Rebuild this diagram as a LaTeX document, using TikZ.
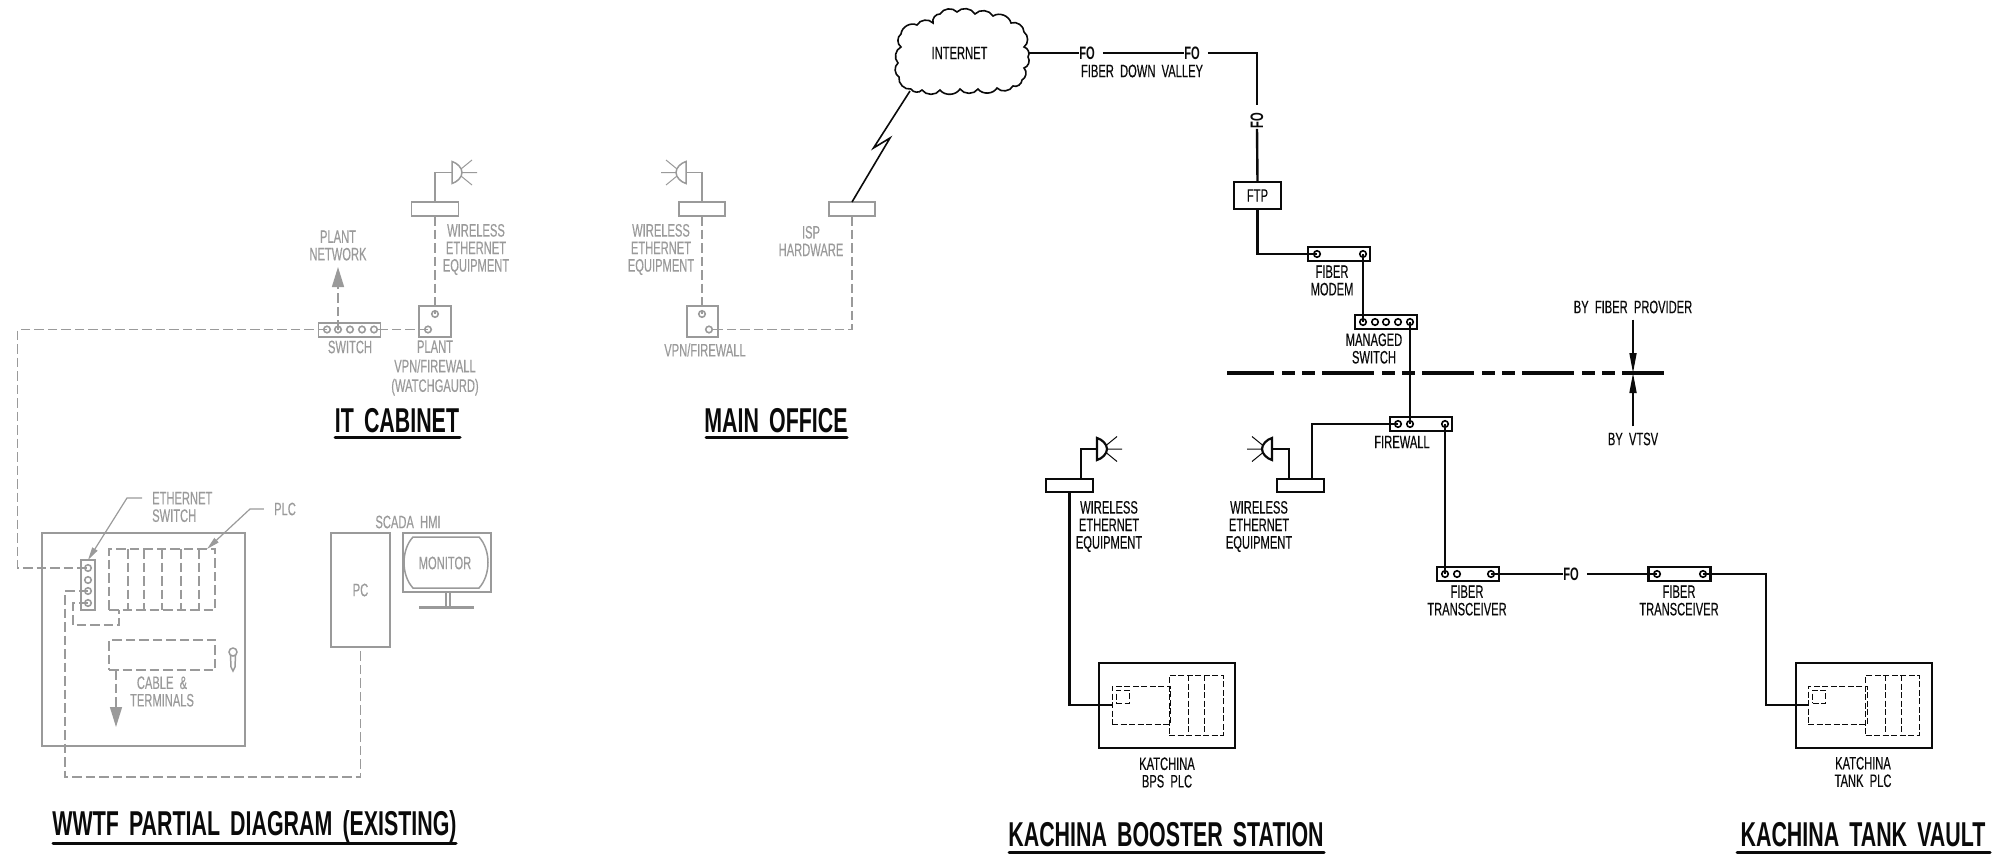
\documentclass[tikz,border=0pt]{standalone}
\usepackage{fontspec}
\setmainfont{Liberation Sans}[FakeStretch=0.62,WordSpace=1.7]
\newfontfamily\tagfont{Liberation Sans}[FakeStretch=0.62,WordSpace=2,FakeBold=0.35]
\usepackage{tikz}
\usetikzlibrary{arrows.meta, positioning, calc}
\definecolor{CadGrey}{HTML}{9A9A9A}
\definecolor{CadBlack}{HTML}{0A0A0A}

\tikzset{
  greyline/.style={draw=CadGrey, line width=1.5pt},
  greydash/.style={draw=CadGrey, line width=1.5pt, dash pattern=on 9.5pt off 4pt},
  wire/.style={draw=CadBlack, line width=2.4pt},
  thinwire/.style={draw=CadBlack, line width=1.6pt},
  plcdash/.style={draw=CadBlack, line width=1pt, dash pattern=on 6pt off 2.5pt},
  devbox/.style={rectangle, inner sep=0pt, outer sep=0pt},
  radiobox/.style={devbox, minimum width=47pt, minimum height=14pt},
  barbox/.style={devbox, minimum width=62pt, minimum height=14pt},
  port/.style={circle, draw, line width=1.6pt, inner sep=0pt, outer sep=0pt, minimum size=6.5pt},
  tag/.style={align=center, inner sep=0pt, text=CadBlack, font=\tagfont\fontsize{18}{17.5}\selectfont},
  greytag/.style={tag, text=CadGrey},
  fotag/.style={tag, inner sep=0pt, font=\normalfont\fontsize{18}{17.5}\selectfont\bfseries},
  headline/.style={tag, font=\normalfont\fontsize{34.5}{34.5}\selectfont\bfseries},
  headrule/.style={draw=CadBlack, line width=3pt, line cap=round},
  horn/.pic={
    \draw (0,-11) .. controls (5,-9.5) and (10,-5) .. (10,0) .. controls (10,5) and (5,9.5) .. (0,11) -- cycle;
    \draw[line width=1pt] (9,-3.5) -- (20,-12.5) (10,0) -- (25,0) (9,3.5) -- (20,12.5);
  }
}

\begin{document}
\begin{tikzpicture}[x=1pt, y=-1pt]
    \useasboundingbox (0,0) rectangle (1999,857);

    \node[devbox, radiobox, greyline] (itradio) at (435,209) {};
    \node[devbox, greyline, minimum width=32pt, minimum height=31pt] (itfw) at (435,321.5) {};
    \node[port, CadGrey] (itfwa) at (435,314) {};
    \node[port, CadGrey] (itfwb) at (428,329.5) {};
    \node[devbox, barbox, greyline] (itsw) at (349.5,330) {};
    \node[port, CadGrey] (itswa) at (327,329.5) {};
    \node[port, CadGrey] (itswb) at (338,329.5) {};
    \node[port, CadGrey] (itswc) at (350,329.5) {};
    \node[port, CadGrey] (itswd) at (362,329.5) {};
    \node[port, CadGrey] (itswe) at (374,329.5) {};
    \coordinate (ithorn) at (452,172.5);
    \coordinate (plantup) at (338,267);
    \coordinate (wallrun) at (17.5,568);
    \pic[CadGrey, line width=1.5pt] at (ithorn) {horn};

    \node[greytag] (plantnet) at (338,245.5) {PLANT\\NETWORK};
    \node[greytag] (itwireless) at (476,249.5) {WIRELESS\\ETHERNET\\EQUIPMENT};
    \node[greytag] (swlabel) at (350,347) {SWITCH};
    \node[greytag, font=\tagfont\fontsize{18}{19.5}\selectfont] (itfwlabel) at (435,368) {PLANT\\VPN/FIREWALL\\(WATCHGAURD)};
    \node[headline] (ittitle) at (397,421) {IT CABINET};
    \draw[headrule] (335,437) -- (460,437);

    \draw[greyline] (itradio.north) |- (ithorn);
    \draw[greydash] (itradio.south) -- (itfwa.center);
    \draw[greydash] (itfwb.center) -- (itswe.center);
    \draw[greydash, -{Triangle[length=20pt, width=12pt]}] (itswb.center) -- (plantup);

    \node[devbox, greyline, minimum width=46pt, minimum height=14pt] (mradio) at (702,209) {};
    \node[devbox, greyline, minimum width=46pt, minimum height=14pt] (ispbox) at (852,209) {};
    \node[devbox, greyline, minimum width=31pt, minimum height=31pt] (mfw) at (702.5,321.5) {};
    \node[port, CadGrey] (mfwa) at (702,314) {};
    \node[port, CadGrey] (mfwb) at (709,329.5) {};
    \coordinate (mhorn) at (686,172.5);
    \pic[CadGrey, line width=1.5pt, xscale=-1] at (mhorn) {horn};

    \node[greytag] (mwireless) at (661,249.5) {WIRELESS\\ETHERNET\\EQUIPMENT};
    \node[greytag] (isplabel) at (811,241) {ISP\\HARDWARE};
    \node[greytag] (mfwlabel) at (705,350) {VPN/FIREWALL};
    \node[headline] (maintitle) at (776,421) {MAIN OFFICE};
    \draw[headrule] (706,437) -- (847,437);

    \draw[greyline] (mradio.north) |- (mhorn);
    \draw[greydash] (mradio.south) -- (mfwa.center);
    \draw[greydash] (ispbox.south) |- (mfwb.center);

    \node[greyline, devbox, minimum width=203pt, minimum height=213pt] (wwtf) at (143.5,639.5) {};
    \node[greyline, devbox, minimum width=14pt, minimum height=50pt] (ethsw) at (88,585) {};
    \node[port, CadGrey] (ethpa) at (88,568) {};
    \node[port, CadGrey] (ethpb) at (88,580) {};
    \node[port, CadGrey] (ethpc) at (88,591) {};
    \node[port, CadGrey] (ethpd) at (88,603) {};
    \node[greydash, devbox, minimum width=106pt, minimum height=61pt] (plcrack) at (162,579.5) {};
    \node[greydash, devbox, minimum width=106pt, minimum height=30pt] (cablebox) at (162,655) {};
    \node[greyline, devbox, minimum width=59pt, minimum height=114pt] (pc) at (360.5,590) {};
    \node[greyline, devbox, minimum width=88pt, minimum height=59pt] (monitor) at (447,562.5) {};
    \node[greytag] at (360.5,590) (pclabel) {PC};
    \node[greytag] (monlabel) at (445,563) {MONITOR};
    \node[greytag] (scadalabel) at (408,522) {SCADA HMI};
    \node[greytag, anchor=west, align=left] (ethlabel) at (152,507) {ETHERNET\\SWITCH};
    \node[greytag] (plclabel) at (285,509) {PLC};
    \node[greytag] (cablelabel) at (162,691.5) {CABLE \&\\TERMINALS};
    \node[headline] (wwtftitle) at (254.5,827) {WWTF PARTIAL DIAGRAM (EXISTING)};
    \draw[headrule] (53,843) -- (456,843);
    \coordinate (ethjog) at (73,625);
    \coordinate (pcrun) at (65,777);
    \coordinate (cabletip) at (116,727);

    \draw[greydash] (128,549) -- (128,610) (144,549) -- (144,610) (162,549) -- (162,610) (181,549) -- (181,610) (199,549) -- (199,610);
    \draw[greyline] (413,537) -- (479,537) .. controls (491,550) and (491,575) .. (479,588) -- (413,588) .. controls (401,575) and (401,550) .. (413,537) -- cycle;
    \draw[greyline] (446,592) -- (446,606) (450,592) -- (450,606);
    \draw[CadGrey, line width=3pt] (419,607) -- (474,607);
    \draw[greyline] (233,652) circle (4) (230.5,655.5) -- (231,667) -- (233,671) -- (235,667) -- (235.5,655.5);

    \draw[greydash] (itswa.center) -| (wallrun) -- (ethpa.center);
    \draw[greydash] (ethpd.center) -| (ethjog) -| ([xshift=-43pt]plcrack.south);
    \draw[greydash] (ethpc.center) -| (pcrun) -| (pc.south);
    \draw[greydash, -{Triangle[length=20pt, width=12pt]}] ([xshift=-46pt]cablebox.south) -- (cabletip);
    \draw[greyline, line width=1.2pt, -{Triangle[length=13pt, width=6pt]}] (142,498) -- (127,498) -- (ethsw.north);
    \draw[greyline, line width=1.2pt, -{Triangle[length=13pt, width=6pt]}] ([xshift=-10pt]plclabel.west) -- (250,509) -- ([xshift=45pt]plcrack.north);

    \node[tag] (inet) at (959.5,53) {INTERNET};
    \coordinate (inetr) at (1028,53);
    \draw[thinwire] (911,89) to[bend left=55] (899,77) to[bend left=55] (898,63) to[bend left=55] (901,47) to[bend left=55] (901,34) to[bend left=55] (917,25) to[bend left=55] (933,23) to[bend left=55] (940,14) to[bend left=55] (957,12) to[bend left=55] (975,14) to[bend left=55] (993,16) to[bend left=55] (1011,23) to[bend left=55] (1024,32) to[bend left=55] (1024,47) to[bend left=55] (1028,57) to[bend left=55] (1024,68) to[bend left=55] (1022,80) to[bend left=55] (1013,86) to[bend left=55] (997,88) to[bend left=55] (978,89) to[bend left=55] (960,89) to[bend left=55] (940,90) to[bend left=55] (922,90) to[bend left=55] (911,89);
    \node[fotag] (foa) at (1087,53) {FO};
    \node[fotag] (fob) at (1192,53) {FO};
    \node[fotag, rotate=90] (foc) at (1257,121) {FO};
    \node[tag] (fiberdown) at (1142,71) {FIBER DOWN VALLEY};
    \node[devbox, wire, minimum width=47pt, minimum height=27pt, tag] (ftp) at (1257.5,195.5) {FTP};
    \node[devbox, barbox, wire] (modem) at (1339,254) {};
    \node[port] (modema) at (1317,254) {};
    \node[port] (modemb) at (1363,254) {};
    \node[tag] (modemlabel) at (1332,280.5) {FIBER\\MODEM};
    \node[devbox, barbox, wire] (mansw) at (1386,322) {};
    \node[port] (manswa) at (1363,322) {};
    \node[port] (manswb) at (1375,322) {};
    \node[port] (manswc) at (1386,322) {};
    \node[port] (manswd) at (1398,322) {};
    \node[port] (manswe) at (1410,322) {};
    \node[tag] (manswlabel) at (1374,348.5) {MANAGED\\SWITCH};
    \node[devbox, barbox, wire] (firewall) at (1421,424) {};
    \node[port] (firewalla) at (1398,424) {};
    \node[port] (firewallb) at (1410,424) {};
    \node[port] (firewallc) at (1445,424) {};
    \node[tag] (firewalllabel) at (1402,442) {FIREWALL};
    \node[tag] (byfiber) at (1633,307) {BY FIBER PROVIDER};
    \node[tag] (byvtsv) at (1633,439) {BY VTSV};
    \coordinate (splitl) at (1227,373);
    \coordinate (splitr) at (1664,373);
    \coordinate (splitp) at (1633,373);
    \coordinate (boltc) at (890,138);
    \coordinate (boltb) at (873.5,148);
    \coordinate (bolta) at (910,91);

    \draw[wire, line width=3.5pt, dash pattern=on 47pt off 8pt on 12.5pt off 7.5pt on 12.5pt off 7.5pt on 5pt off 0pt] (splitl) -- (splitr);
    \draw[wire] (inetr) -- (foa.west);
    \draw[wire] ([xshift=8pt]foa.east) -- (fob.west);
    \draw[wire] ([xshift=8pt]fob.east) -| ([yshift=8pt]foc.east);
    \draw[wire] (foc.west) -- (ftp.north);
    \draw[wire] (ftp.south) |- (modema.center);
    \draw[wire] (modemb.center) -- (manswa.center);
    \draw[wire] (manswe.center) -- (firewallb.center);
    \draw[thinwire] (ispbox.north) -- (boltc) -- (boltb) -- (bolta);
    \draw[thinwire, -{Triangle[length=20pt, width=7pt]}] ([yshift=-6pt]byfiber.south) -- (splitp);
    \draw[thinwire, -{Triangle[length=20pt, width=7pt]}] ([yshift=6pt]byvtsv.north) -- (splitp);

    \node[devbox, radiobox, wire, minimum height=13pt] (rradio) at (1300.5,485.5) {};
    \coordinate (rhorn) at (1272,449);
    \pic[CadBlack, line width=2.2pt, xscale=-1] at (rhorn) {horn};
    \node[tag] (rwireless) at (1259,526.5) {WIRELESS\\ETHERNET\\EQUIPMENT};
    \draw[wire] (rhorn) -| ([xshift=-11.5pt]rradio.north);
    \draw[wire] (firewalla.center) -| ([xshift=11.5pt]rradio.north);

    \node[devbox, barbox, wire] (transa) at (1468,574) {};
    \node[port] (transaa) at (1445,574) {};
    \node[port] (transab) at (1457,574) {};
    \node[port] (transac) at (1491,574) {};
    \node[tag] (transalabel) at (1467,600.5) {FIBER\\TRANSCEIVER};
    \node[devbox, barbox, wire] (transb) at (1679.5,574) {};
    \node[port] (transba) at (1657,574) {};
    \node[port] (transbb) at (1703,574) {};
    \node[tag] (transblabel) at (1679,600.5) {FIBER\\TRANSCEIVER};
    \node[fotag] (fod) at (1571,574) {FO};
    \draw[wire] (firewallc.center) -- (transaa.center);
    \draw[wire] (transac.center) -- (fod.west);
    \draw[wire] ([xshift=8pt]fod.east) -- (transba.center);

    \node[devbox, radiobox, wire, minimum height=13pt] (bradio) at (1069.5,485.5) {};
    \coordinate (bhorn) at (1097,449);
    \coordinate (bpsjog) at (1069.5,705);
    \pic[CadBlack, line width=2.2pt] at (bhorn) {horn};
    \node[tag] (bwireless) at (1109,526.5) {WIRELESS\\ETHERNET\\EQUIPMENT};
    \node[wire, devbox, minimum width=136pt, minimum height=85pt] (bps) at (1167,705.5) {};
    \node[plcdash, devbox, minimum width=58pt, minimum height=38pt] (bpscpu) at (1141,705) {};
    \node[plcdash, devbox, minimum width=13pt, minimum height=13pt] (bpsport) at (1122.5,696.5) {};
    \node[plcdash, devbox, minimum width=54pt, minimum height=60pt] (bpsrack) at (1196,705) {};
    \draw[plcdash] (1188,675) -- (1188,735) (1204,675) -- (1204,735);
    \node[tag] (bpslabel) at (1167,772.5) {KATCHINA\\BPS PLC};
    \node[headline] (bpstitle) at (1166,835) {KACHINA BOOSTER STATION};
    \draw[headrule] (1009,852) -- (1324,852);
    \draw[wire] (bhorn) -| ([xshift=11.5pt]bradio.north);
    \draw[wire] (bradio.south) -- (bpsjog) -- (bpscpu.west);

    \node[wire, devbox, minimum width=136pt, minimum height=85pt] (tank) at (1864,705.5) {};
    \node[plcdash, devbox, minimum width=59pt, minimum height=38pt] (tankcpu) at (1837.5,705) {};
    \node[plcdash, devbox, minimum width=13pt, minimum height=13pt] (tankport) at (1819,696.5) {};
    \node[plcdash, devbox, minimum width=54pt, minimum height=60pt] (tankrack) at (1892.5,705) {};
    \draw[plcdash] (1885,675) -- (1885,735) (1901,675) -- (1901,735);
    \node[tag] (tanklabel) at (1863,772) {KATCHINA\\TANK PLC};
    \node[headline] (tanktitle) at (1863,835) {KACHINA TANK VAULT};
    \draw[headrule] (1737,852) -- (1990,852);
    \draw[wire] (transbb.center) -| (1766,705) -- (tankcpu.west);
  \end{tikzpicture}
\end{document}
